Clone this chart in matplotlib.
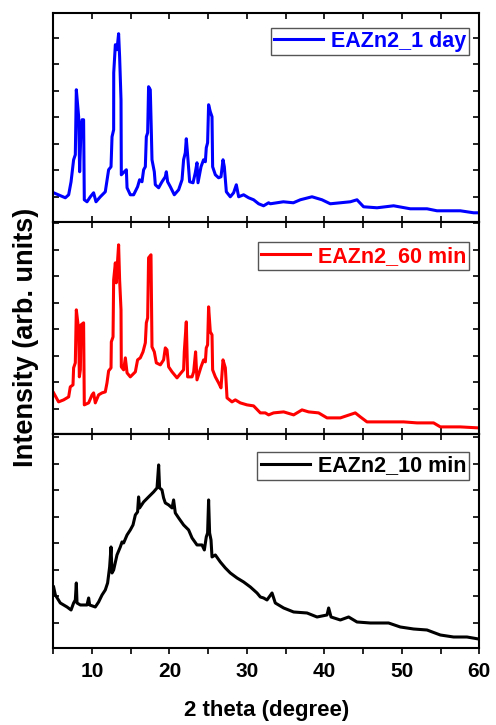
"""XRD patterns of EAZn2 samples at different reaction times (stacked panels)."""

import matplotlib
matplotlib.use("Agg")
import matplotlib.pyplot as plt
from matplotlib.ticker import MultipleLocator
import numpy as np

plt.rcParams["font.family"] = ["Liberation Sans", "DejaVu Sans"]
plt.rcParams["font.weight"] = "bold"

# 2 theta (degree) and intensity (arb. units) for each sample
tt_1day = [5.04, 6.55, 6.98, 7.29, 7.62, 7.84, 7.97, 8.27, 8.40, 8.58, 8.71, 8.91,
           9.00, 9.35, 9.78, 10.20, 10.51, 11.07, 11.71, 12.14, 12.45, 12.58, 12.79,
           12.80, 13.01, 13.22, 13.43, 13.56, 13.74, 13.78, 14.17, 14.43, 14.52, 14.94,
           15.37, 15.88, 16.14, 16.45, 16.66, 16.88, 17.01, 17.18, 17.30, 17.52, 17.65,
           17.74, 18.04, 18.17, 18.60, 19.03, 19.46, 19.59, 19.76, 20.11, 20.62, 21.18,
           21.62, 21.82, 22.04, 22.17, 22.34, 22.60, 23.04, 23.33, 23.55, 23.68, 24.07,
           24.40, 24.63, 24.75, 24.92, 25.05, 25.27, 25.49, 25.57, 25.92, 26.34, 26.65,
           26.91, 27.08, 27.34, 27.85, 28.28, 28.63, 28.93, 29.57, 30.22, 30.86, 31.51,
           32.15, 32.80, 33.02, 34.70, 35.99, 36.89, 38.40, 39.69, 40.76, 42.06, 43.35,
           44.21, 45.06, 46.80, 48.94, 51.09, 53.25, 54.54, 57.55, 59.27, 59.91]
int_1day = [290, 240, 270, 400, 620, 670, 1320, 1050, 500, 950, 1020, 1020,
            220, 200, 250, 290, 200, 250, 300, 520, 550, 850, 920,
            1490, 1770, 1720, 1880, 1650, 1220, 470, 500, 520, 340, 270,
            270, 350, 420, 400, 520, 550, 850, 890, 1350, 1320, 920,
            620, 500, 370, 340, 400, 450, 500, 400, 350, 270, 320,
            420, 620, 690, 830, 670, 400, 390, 490, 590, 390, 550,
            620, 600, 740, 790, 1170, 1100, 1050, 550, 470, 440, 450,
            620, 550, 300, 250, 290, 370, 250, 270, 240, 220, 180,
            160, 190, 180, 200, 190, 220, 250, 220, 180, 190, 200,
            220, 150, 140, 160, 130, 130, 110, 110, 90, 90]

tt_60min = [5.04, 5.68, 6.33, 6.98, 7.19, 7.54, 7.62, 7.84, 7.97, 8.27, 8.36, 8.49,
            8.58, 8.91, 9.00, 9.56, 10.00, 10.20, 10.42, 10.85, 11.29, 11.71, 11.93,
            12.14, 12.45, 12.49, 12.71, 12.79, 13.01, 13.13, 13.22, 13.43, 13.56, 13.74,
            13.78, 14.08, 14.30, 14.52, 14.94, 15.59, 15.88, 16.23, 16.58, 16.88, 17.01,
            17.18, 17.30, 17.61, 17.74, 18.04, 18.30, 18.82, 19.24, 19.46, 19.68, 19.89,
            20.33, 20.97, 21.49, 21.82, 21.91, 22.17, 22.34, 22.91, 23.12, 23.37, 23.55,
            24.07, 24.41, 24.63, 24.75, 24.92, 25.05, 25.27, 25.49, 25.57, 25.92, 26.34,
            26.65, 26.91, 27.21, 27.43, 28.07, 28.50, 29.14, 30.01, 30.86, 31.73, 32.37,
            32.80, 33.44, 34.74, 36.03, 37.11, 37.96, 39.25, 40.34, 42.06, 43.99, 44.64,
            45.50, 48.09, 50.23, 51.96, 54.10, 54.97, 57.55, 59.91]
int_60min = [410, 320, 340, 370, 470, 490, 660, 710, 1240, 1040, 570, 640,
             1090, 1110, 290, 310, 390, 410, 310, 390, 410, 420, 510,
             630, 660, 920, 970, 1540, 1710, 1510, 1640, 1890, 1540, 1240,
             670, 640, 760, 610, 570, 620, 740, 760, 820, 910, 1110,
             1160, 1760, 1790, 870, 820, 710, 690, 740, 860, 840, 670,
             620, 560, 610, 640, 820, 1120, 570, 570, 620, 820, 540,
             670, 740, 720, 860, 890, 1270, 1020, 990, 640, 570, 510,
             460, 740, 660, 360, 320, 340, 310, 290, 280, 210, 210,
             190, 210, 220, 190, 240, 220, 210, 160, 160, 210, 170,
             120, 120, 120, 110, 110, 70, 70, 60]

tt_10min = [5.04, 5.26, 5.90, 6.77, 7.29, 7.62, 7.84, 7.97, 8.06, 8.49, 9.35, 9.56,
            9.69, 10.42, 10.85, 11.29, 11.71, 12.01, 12.27, 12.45, 12.58, 12.79, 13.22,
            13.65, 13.87, 14.08, 14.52, 14.94, 15.29, 15.59, 15.88, 16.01, 16.14, 16.66,
            17.30, 17.95, 18.39, 18.60, 18.72, 19.03, 19.24, 19.46, 19.89, 20.33, 20.53,
            20.75, 21.18, 21.82, 22.47, 22.91, 23.55, 24.20, 24.50, 24.75, 24.92, 25.05,
            25.18, 25.36, 25.49, 25.92, 26.56, 27.21, 27.85, 28.72, 29.57, 30.44, 31.30,
            31.73, 32.15, 32.59, 33.24, 33.66, 34.74, 36.03, 37.76, 39.05, 40.34, 40.55,
            40.86, 42.06, 43.13, 44.21, 45.93, 48.29, 49.80, 51.52, 53.25, 54.97, 56.68,
            58.41, 59.91]
int_10min = [610, 530, 450, 410, 380, 450, 480, 650, 450, 430, 430, 500,
             430, 410, 460, 530, 580, 650, 810, 1010, 750, 780, 930,
             1010, 1060, 1050, 1130, 1180, 1230, 1330, 1360, 1510, 1400, 1460,
             1510, 1560, 1600, 1830, 1600, 1580, 1500, 1450, 1430, 1400, 1480,
             1350, 1300, 1230, 1180, 1100, 1030, 1030, 980, 1110, 1150, 1480,
             1150, 1080, 910, 930, 860, 800, 750, 700, 660, 610, 550,
             510, 500, 480, 550, 450, 400, 360, 350, 310, 330, 400,
             310, 280, 310, 260, 250, 250, 210, 190, 180, 130, 110,
             110, 90]

panels = [
    (tt_1day, int_1day, "EAZn2_1 day", "#0000ff", 2090, 0.928),
    (tt_60min, int_60min, "EAZn2_60 min", "#ff0000", 2120, 0.903),
    (tt_10min, int_10min, "EAZn2_10 min", "#000000", 2140, 0.914),
]

fig, axes = plt.subplots(3, 1, figsize=(4.96, 7.25), dpi=100, sharex=True,
                         gridspec_kw={"height_ratios": [209, 212, 214]})
fig.subplots_adjust(left=0.1075, right=0.9663, top=0.9825, bottom=0.1062, hspace=0)

for i, (ax, (x, y, label, color, ytop, leg_y)) in enumerate(zip(axes, panels)):
    ax.plot(x, y, color=color, lw=2.2, label=label)
    ax.set_xlim(5, 60)
    ax.set_ylim(0, ytop)
    ax.set_yticks(np.arange(250, ytop, 265))
    ax.tick_params(axis="y", which="both", direction="in", left=True, right=True,
                   labelleft=False, length=4, width=1.2)
    ax.xaxis.set_major_locator(MultipleLocator(10))
    ax.xaxis.set_minor_locator(MultipleLocator(5))
    for s in ax.spines.values():
        s.set_linewidth(1.5)

    leg = ax.legend(loc="upper right", bbox_to_anchor=(0.977, leg_y), borderaxespad=0,
                    fancybox=False, edgecolor="#555555", framealpha=1,
                    handlelength=2.3, handletextpad=0.35, borderpad=0.15,
                    labelcolor="linecolor", prop={"weight": "bold", "size": 15.5})
    leg.get_frame().set_linewidth(1.0)

    if i < 2:
        ax.tick_params(axis="x", which="both", direction="in", top=True, bottom=True,
                       labelbottom=False, length=4, width=1.2)
    else:
        ax.tick_params(axis="x", which="both", direction="out", top=False,
                       length=4, width=1.2, labelsize=15, pad=6)
        top_ax = ax.secondary_xaxis("top")
        top_ax.xaxis.set_major_locator(MultipleLocator(10))
        top_ax.xaxis.set_minor_locator(MultipleLocator(5))
        top_ax.tick_params(axis="x", which="both", direction="in", length=4,
                           width=1.2, labeltop=False)
        top_ax.spines["top"].set_linewidth(1.5)

axes[2].set_xlabel("2 theta (degree)", fontsize=16, fontweight="bold", labelpad=14)
fig.text(0.052, 0.535, "Intensity (arb. units)", rotation=90, fontsize=19.5,
         fontweight="bold", ha="center", va="center")

fig.savefig("out.png", dpi=100)
